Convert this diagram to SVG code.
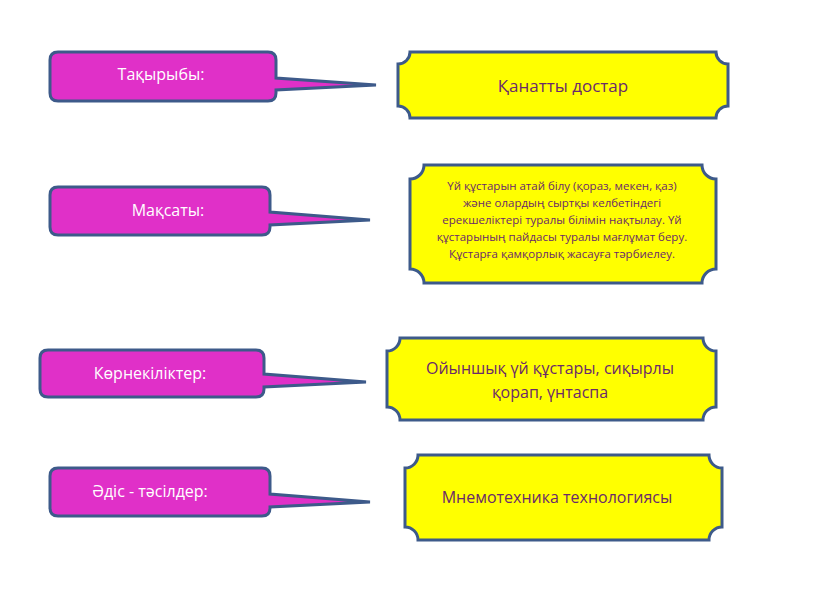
<svg xmlns="http://www.w3.org/2000/svg" width="822" height="597" viewBox="0 0 822 597">
<style>
.c{fill:#e030c8;stroke:#3d5a8a;stroke-width:3}
.p{fill:#ffff00;stroke:#3d5a8a;stroke-width:3}
.ct{font-family:"Open Sans","Liberation Sans",sans-serif;font-size:16px;fill:#ffffff;text-anchor:middle}
.pt{font-family:"Open Sans","Liberation Sans",sans-serif;fill:#6a2a6a;text-anchor:middle}
</style>
<rect width="822" height="597" fill="#fff"/>
<g id="connectors"></g>
<g id="n1">
<path class="c" d="M58,52 H268 Q276,52 276,60 V78 L376,85 L276,90 V93 Q276,101 268,101 H58 Q50,101 50,93 V60 Q50,52 58,52 Z"/>
<text class="ct" x="161" y="80">Тақырыбы:</text>
</g>
<g id="n2">
<path class="p" d="M410,52 H716 A12,12 0 0 0 728,64 V106 A12,12 0 0 0 716,118 H410 A12,12 0 0 0 398,106 V64 A12,12 0 0 0 410,52 Z"/>
<text class="pt" x="563" y="92" font-size="17">Қанатты достар</text>
</g>
<g id="n3">
<path class="c" d="M58,187 H262 Q270,187 270,195 V212 L370,220 L270,225 V227 Q270,235 262,235 H58 Q50,235 50,227 V195 Q50,187 58,187 Z"/>
<text class="ct" x="168" y="216">Мақсаты:</text>
</g>
<g id="n4">
<path class="p" d="M424,165 H702 A14,14 0 0 0 716,179 V269 A14,14 0 0 0 702,283 H424 A14,14 0 0 0 410,269 V179 A14,14 0 0 0 424,165 Z"/>
<text class="pt" x="562" y="190" font-size="11.5">Үй құстарын атай білу (қораз, мекен, қаз)</text>
<text class="pt" x="562" y="207" font-size="11.5">және олардың сыртқы келбетіндегі</text>
<text class="pt" x="562" y="224" font-size="11.5">ерекшеліктері туралы білімін нақтылау. Үй</text>
<text class="pt" x="562" y="241" font-size="11.5">құстарының пайдасы туралы мағлұмат беру.</text>
<text class="pt" x="562" y="258" font-size="11.5">Құстарға қамқорлық жасауға тәрбиелеу.</text>
</g>
<g id="n5">
<path class="c" d="M48,350 H256 Q264,350 264,358 V374 L366,382 L264,387 V389 Q264,397 256,397 H48 Q40,397 40,389 V358 Q40,350 48,350 Z"/>
<text class="ct" x="150" y="379">Көрнекіліктер:</text>
</g>
<g id="n6">
<path class="p" d="M400,338 H703 A13,13 0 0 0 716,351 V407 A13,13 0 0 0 703,420 H400 A13,13 0 0 0 387,407 V351 A13,13 0 0 0 400,338 Z"/>
<text class="pt" x="550" y="374" font-size="16">Ойыншық  үй құстары, сиқырлы</text>
<text class="pt" x="550" y="398" font-size="16">қорап, үнтаспа</text>
</g>
<g id="n7">
<path class="c" d="M58,468 H262 Q270,468 270,476 V494 L370,502 L270,507 V508 Q270,516 262,516 H58 Q50,516 50,508 V476 Q50,468 58,468 Z"/>
<text class="ct" x="150" y="497">Әдіс - тәсілдер:</text>
</g>
<g id="n8">
<path class="p" d="M418,455 H709 A13,13 0 0 0 722,468 V527 A13,13 0 0 0 709,540 H418 A13,13 0 0 0 405,527 V468 A13,13 0 0 0 418,455 Z"/>
<text class="pt" x="557" y="503" font-size="16">Мнемотехника  технологиясы</text>
</g>
</svg>
